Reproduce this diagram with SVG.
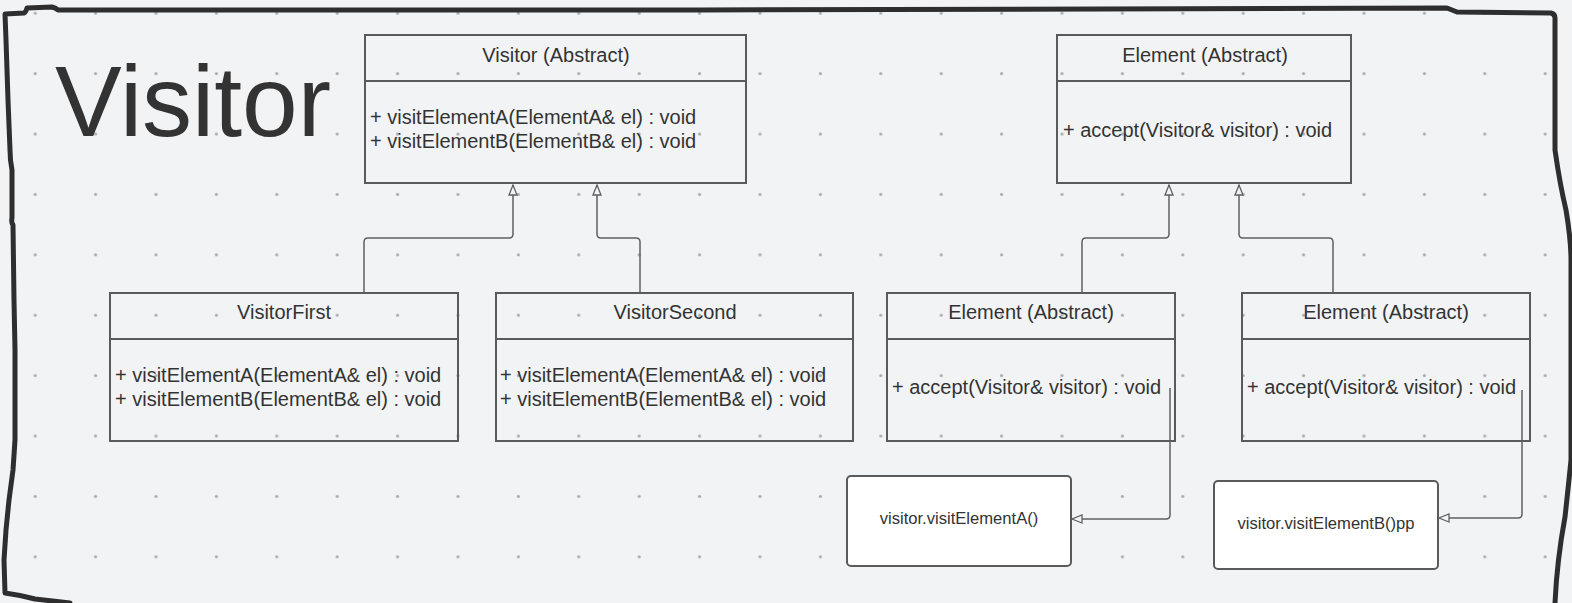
<svg xmlns="http://www.w3.org/2000/svg" width="1572" height="603" viewBox="0 0 1572 603">
<defs>
<style>
text{font-family:"Liberation Sans",Arial,sans-serif;fill:#333}
.t{font-size:20px;text-anchor:middle}
.m{font-size:20px}
.n{font-size:16.6px;text-anchor:middle}
.box{fill:none;stroke:#5a5a5a;stroke-width:2}
.wb{fill:#fff;stroke:#5a5a5a;stroke-width:2}
.c{fill:none;stroke:#606060;stroke-width:1.5;marker-end:url(#tri)}
</style>
<pattern id="dots" patternUnits="userSpaceOnUse" x="5" y="-17" width="60.4" height="60.4">
<circle cx="30.2" cy="30.2" r="1.6" fill="#a9aaad"/>
</pattern>
<marker id="tri" viewBox="0 0 12 10" refX="11" refY="5" markerWidth="12" markerHeight="10" markerUnits="userSpaceOnUse" orient="auto">
<path d="M1,1 L11,5 L1,9 Z" fill="#f2f3f5" stroke="#606060" stroke-width="1.3"/>
</marker>
</defs>
<rect width="1572" height="603" fill="#f2f3f5"/>
<rect width="1572" height="603" fill="url(#dots)"/>
<path d="M70,603 L35,599 Q20,595 5,593 L4,560 L6,530 L9,500 L13,470 L15,440 L15,400 L15,350 L14,300 L13,225 Q11,222 12,218 L12,170 Q10,160 10,150 L8,100 L6,40 L5,14 L24,13 Q26,12 27,8 L52,7 Q56,8 58,10 L700,10 L1447,8 Q1452,10 1457,12 L1551,13 Q1555,14 1555,18 L1555,150 Q1560,185 1566,210 Q1571,240 1571,260 L1571,460 Q1568,490 1565,517 Q1557,560 1555,603" fill="none" stroke="#2e2e2e" stroke-width="5" stroke-linejoin="round" stroke-linecap="round"/>
<text x="55" y="136" font-size="100">Visitor</text>
<g id="visitor-abstract">
<rect class="box" x="365" y="35" width="381" height="148"/>
<line class="box" x1="365" y1="81" x2="746" y2="81"/>
<text class="t" x="556" y="62">Visitor (Abstract)</text>
<text class="m" x="370" y="124">+ visitElementA(ElementA&amp; el) : void</text>
<text class="m" x="370" y="148">+ visitElementB(ElementB&amp; el) : void</text>
</g>
<g id="element-abstract">
<rect class="box" x="1057" y="35" width="294" height="148"/>
<line class="box" x1="1057" y1="81" x2="1351" y2="81"/>
<text class="t" x="1205" y="62">Element (Abstract)</text>
<text class="m" x="1063" y="137">+ accept(Visitor&amp; visitor) : void</text>
</g>
<g id="visitor-first">
<rect class="box" x="110" y="293" width="348" height="148"/>
<line class="box" x1="110" y1="339" x2="458" y2="339"/>
<text class="t" x="284" y="319">VisitorFirst</text>
<text class="m" x="115" y="382">+ visitElementA(ElementA&amp; el) : void</text>
<text class="m" x="115" y="406">+ visitElementB(ElementB&amp; el) : void</text>
</g>
<g id="visitor-second">
<rect class="box" x="496" y="293" width="357" height="148"/>
<line class="box" x1="496" y1="339" x2="853" y2="339"/>
<text class="t" x="675" y="319">VisitorSecond</text>
<text class="m" x="500" y="382">+ visitElementA(ElementA&amp; el) : void</text>
<text class="m" x="500" y="406">+ visitElementB(ElementB&amp; el) : void</text>
</g>
<g id="element-a">
<rect class="box" x="887" y="293" width="288" height="148"/>
<line class="box" x1="887" y1="339" x2="1175" y2="339"/>
<text class="t" x="1031" y="319">Element (Abstract)</text>
<text class="m" x="892" y="394">+ accept(Visitor&amp; visitor) : void</text>
</g>
<g id="element-b">
<rect class="box" x="1242" y="293" width="288" height="148"/>
<line class="box" x1="1242" y1="339" x2="1530" y2="339"/>
<text class="t" x="1386" y="319">Element (Abstract)</text>
<text class="m" x="1247" y="394">+ accept(Visitor&amp; visitor) : void</text>
</g>
<g id="note-a">
<rect class="wb" x="847" y="476" width="224" height="90" rx="4"/>
<text class="n" x="959" y="524">visitor.visitElementA()</text>
</g>
<g id="note-b">
<rect class="wb" x="1214" y="481" width="224" height="88" rx="4"/>
<text class="n" x="1326" y="529">visitor.visitElementB()pp</text>
</g>
<g id="connectors">
<path class="c" d="M364,293 L364,242 Q364,238 368,238 L509,238 Q513,238 513,234 L513,185"/>
<path class="c" d="M640,293 L640,242 Q640,238 636,238 L601,238 Q597,238 597,234 L597,185"/>
<path class="c" d="M1082,293 L1082,242 Q1082,238 1086,238 L1165,238 Q1169,238 1169,234 L1169,185"/>
<path class="c" d="M1333,293 L1333,242 Q1333,238 1329,238 L1243,238 Q1239,238 1239,234 L1239,185"/>
<path class="c" d="M1170,388 L1170,515 Q1170,519 1166,519 L1072,519"/>
<path class="c" d="M1522,390 L1522,514 Q1522,518 1518,518 L1439,518"/>
</g>
</svg>
